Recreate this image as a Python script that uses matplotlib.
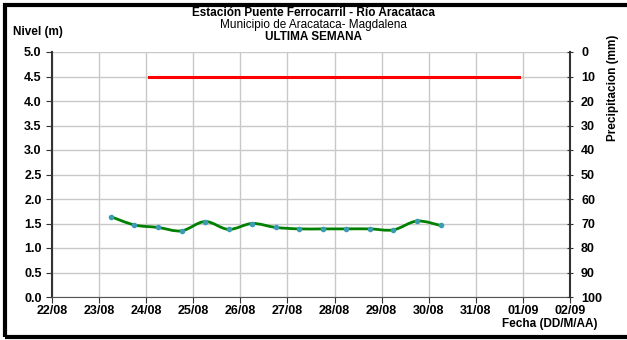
import datetime as dt

import matplotlib
matplotlib.use("Agg")
import matplotlib.pyplot as plt
import matplotlib.dates as mdates
from matplotlib.path import Path
from matplotlib.patches import PathPatch, Rectangle

plt.rcParams['font.family'] = ['Liberation Sans', 'DejaVu Sans']

# level readings, every 12 h
times = [dt.datetime(2023, 8, 23, 6) + dt.timedelta(hours=12 * i) for i in range(15)]
nivel = [1.64, 1.47, 1.42, 1.35, 1.54, 1.38, 1.50, 1.42, 1.39, 1.39,
         1.39, 1.39, 1.37, 1.55, 1.46]

# alert level line
alerta_t = [dt.datetime(2023, 8, 24, 1, 30), dt.datetime(2023, 8, 31, 22)]
alerta_nivel = [4.5, 4.5]

x_ticks = [dt.datetime(2023, 8, 22) + dt.timedelta(days=d) for d in range(12)]
y_ticks = [0.0, 0.5, 1.0, 1.5, 2.0, 2.5, 3.0, 3.5, 4.0, 4.5, 5.0]
p_ticks = [0, 10, 20, 30, 40, 50, 60, 70, 80, 90, 100]

fig = plt.figure(figsize=(6.27, 3.40), dpi=100)
ax = fig.add_axes([52 / 627, 43 / 340, 518 / 627, 245 / 340])

# smoothed line (catmull-rom -> bezier, like excel smoothing)
xs = mdates.date2num(times)
ys = nivel
verts = [(xs[0], ys[0])]
codes = [Path.MOVETO]
n = len(xs)
for i in range(n - 1):
    x0, y0 = (xs[i - 1], ys[i - 1]) if i > 0 else (xs[i], ys[i])
    x1, y1 = xs[i], ys[i]
    x2, y2 = xs[i + 1], ys[i + 1]
    x3, y3 = (xs[i + 2], ys[i + 2]) if i + 2 < n else (x2, y2)
    c1 = (x1 + (x2 - x0) / 6, y1 + (y2 - y0) / 6)
    c2 = (x2 - (x3 - x1) / 6, y2 - (y3 - y1) / 6)
    verts += [c1, c2, (x2, y2)]
    codes += [Path.CURVE4] * 3
ax.add_patch(PathPatch(Path(verts, codes), fill=False, edgecolor='#008000', lw=2, zorder=3))
ax.plot(times, nivel, ls='none', marker='o', ms=3, color='#3c9cb4', zorder=4)

ax.plot(alerta_t, alerta_nivel, color='#ff0000', lw=2.2, zorder=3)

ax.set_xlim(x_ticks[0], x_ticks[-1])
ax.set_ylim(0, 5)
ax.set_xticks(x_ticks)
ax.xaxis.set_major_formatter(mdates.DateFormatter('%d/%m'))
ax.set_yticks(y_ticks)
ax.set_yticklabels([f'{v:.1f}' for v in y_ticks])
ax.grid(True, color='#c8c8c8', lw=1)
ax.set_axisbelow(True)
for s in ['top', 'right']:
    ax.spines[s].set_visible(False)
ax.spines['left'].set_color('#333333')
ax.spines['left'].set_linewidth(1.5)
ax.spines['bottom'].set_color('#555555')
ax.tick_params(axis='both', labelsize=9, length=4, color='#333333')
ax.tick_params(axis='x', pad=2)
for lab in ax.get_xticklabels() + ax.get_yticklabels():
    lab.set_fontweight('bold')

ax2 = ax.twinx()
ax2.set_ylim(100, 0)
ax2.set_yticks(p_ticks)
ax2.set_yticklabels([str(v) for v in p_ticks])
for s in ['top', 'left', 'bottom']:
    ax2.spines[s].set_visible(False)
ax2.spines['right'].set_color('#333333')
ax2.spines['right'].set_linewidth(1.5)
ax2.tick_params(axis='y', labelsize=9, length=4, direction='inout', pad=6, color='#333333')
for lab in ax2.get_yticklabels():
    lab.set_fontweight('bold')

fig.text(0.5, 1 - 13.5 / 340, 'Estación Puente Ferrocarril - Río Aracataca', ha='center', va='center',
         fontsize=8.5, fontweight='bold')
fig.text(0.5, 1 - 25 / 340, 'Municipio de Aracataca- Magdalena', ha='center', va='center', fontsize=8.5)
fig.text(0.5, 1 - 36.5 / 340, 'ULTIMA SEMANA', ha='center', va='center', fontsize=8.5, fontweight='bold')
fig.text(13 / 627, 1 - 32 / 340, 'Nivel (m)', ha='left', va='center', fontsize=8.5, fontweight='bold')
fig.text(598 / 627, 1 - 324 / 340, 'Fecha (DD/M/AA)', ha='right', va='center', fontsize=8.5, fontweight='bold')
fig.text(613 / 627, 1 - 88 / 340, 'Precipitacion (mm)', ha='center', va='center', rotation=90,
         fontsize=8.5, fontweight='bold')

# outer frame
fig.patches.append(Rectangle((5 / 627, 3 / 340), 1.0, 1 - 8 / 340, transform=fig.transFigure,
                             fill=False, edgecolor='black', lw=3))

fig.savefig('out.png', dpi=100)
